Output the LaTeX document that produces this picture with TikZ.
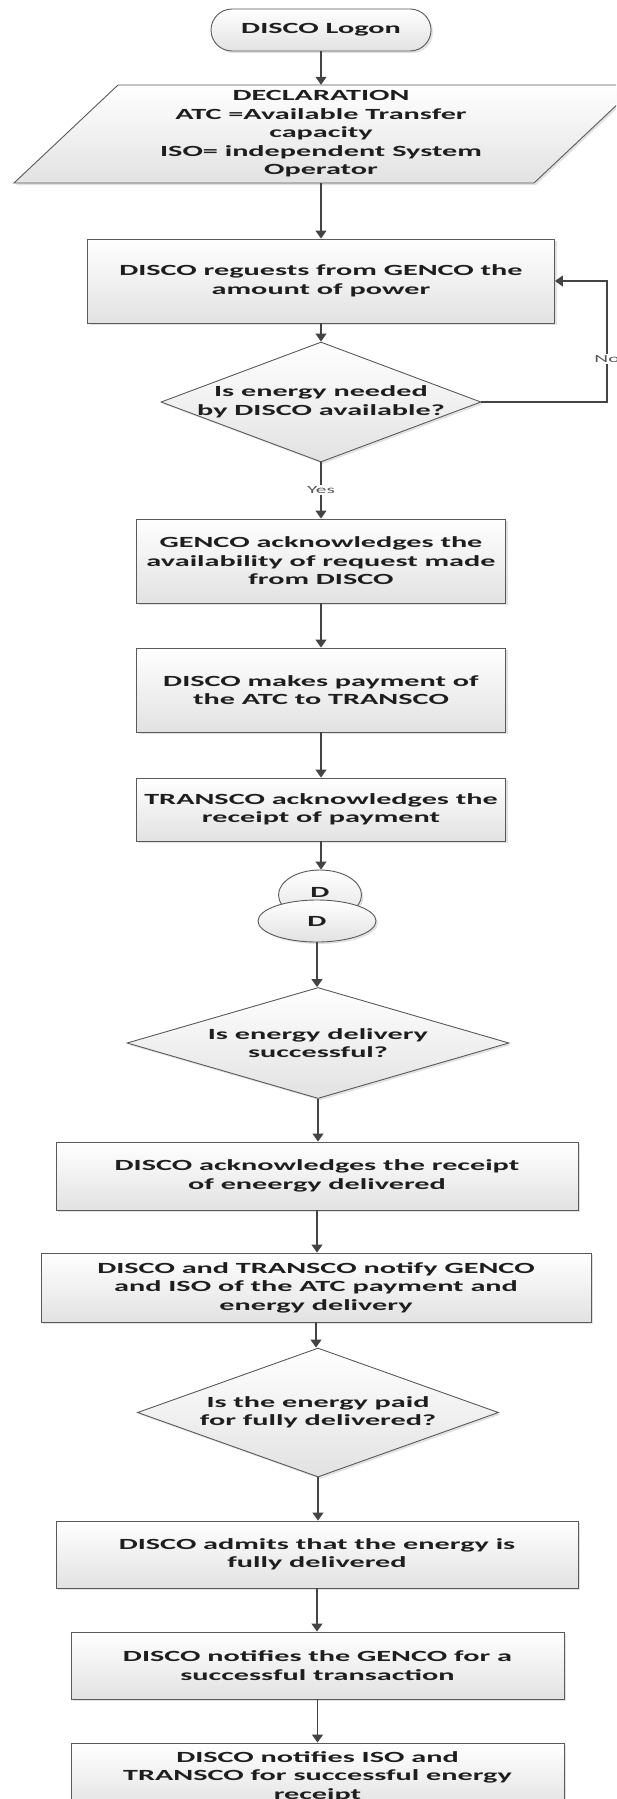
\documentclass[tikz,border=0pt]{standalone}
\usepackage{fontspec}
\setmainfont{Carlito}[FakeStretch=1.95]
\usetikzlibrary{arrows.meta,shapes.geometric,shadows}
\definecolor{edgec}{HTML}{5A5A5A}
\definecolor{arrowc}{HTML}{444444}
\definecolor{txtc}{HTML}{1E1E1E}
\definecolor{boxbot}{HTML}{E2E2E2}
\tikzset{
  base/.style={draw=edgec, line width=0.9pt, top color=white, bottom color=boxbot,
    drop shadow={shadow xshift=2pt, shadow yshift=-2pt, opacity=0.25, fill=black!45},
    font=\fontsize{15.5}{18.5}\selectfont\bfseries, text=txtc, align=center, inner sep=0pt},
  box/.style={base, rectangle},
  dia/.style={base, diamond},
  term/.style={base, rectangle, rounded corners=21pt},
  ell/.style={base, ellipse},
  txtn/.style={font=\fontsize{15.5}{18.5}\selectfont\bfseries, text=txtc, align=center, inner sep=0pt},
  arr/.style={-{Triangle[width=11pt,length=8pt]}, draw=arrowc, line width=1.2pt},
  lbl/.style={font=\fontsize{11}{13}\selectfont, text=black!65, fill=white, inner sep=1pt}
}
\begin{document}
\begin{tikzpicture}[x=1pt,y=-1pt]
\useasboundingbox (0,0) rectangle (616,1799);
\clip (0,0) rectangle (616,1799);

% start
\node[term, minimum width=220pt, minimum height=42pt] (logon) at (321,30) {DISCO Logon};

% declaration parallelogram
\path[base] (14,183) -- (534,183) -- (638,85) -- (118,85) -- cycle;
\node[txtn, minimum height=98pt] (decl) at (321,134) {DECLARATION\\ATC =Available Transfer\\capacity\\ISO= independent System\\Operator};

\node[box, minimum width=467pt, minimum height=84pt] (r1) at (321,281) {DISCO reguests from GENCO the\\amount of power};
\node[dia, minimum width=320pt, minimum height=120pt] (q1) at (321,402) {};
\node[txtn] (q1t) at (321,402) {Is energy needed\\by DISCO available?};

\node[box, minimum width=369pt, minimum height=84pt] (r2) at (321,561) {GENCO acknowledges the\\availability of request made\\from DISCO};
\node[box, minimum width=369pt, minimum height=84pt] (r3) at (321,690) {DISCO makes payment of\\the ATC to TRANSCO};
\node[box, minimum width=369pt, minimum height=63pt] (r4) at (321,809.5) {TRANSCO acknowledges the\\receipt of payment};

\node[ell, minimum width=83pt, minimum height=50pt] (e1) at (320,895) {\raisebox{5pt}{D}};
\node[ell, minimum width=118pt, minimum height=42pt] (e2) at (317,921) {D};

\node[dia, minimum width=382pt, minimum height=111pt] (q2) at (318,1043) {};
\node[txtn] (q2t) at (318,1043) {Is energy delivery\\successful?};

\node[box, minimum width=522pt, minimum height=68pt] (r5) at (317,1176) {DISCO acknowledges the receipt\\of eneergy delivered};
\node[box, minimum width=550pt, minimum height=69pt] (r6) at (316,1287.5) {DISCO and TRANSCO notify GENCO\\and ISO of the ATC payment and\\energy delivery};

\node[dia, minimum width=361pt, minimum height=129pt] (q3) at (318,1412.5) {};
\node[txtn] (q3t) at (318,1412.5) {Is the energy paid\\for fully delivered?};

\node[box, minimum width=522pt, minimum height=67pt] (r7) at (317,1554.5) {DISCO admits that the energy is\\fully delivered};
\node[box, minimum width=493pt, minimum height=67pt] (r8) at (317.5,1665.5) {DISCO notifies the GENCO for a\\successful transaction};
\node[box, minimum width=493pt, minimum height=67pt] (r9) at (317.5,1776.5) {DISCO notifies ISO and\\TRANSCO for successful energy\\receipt};

% connectors
\draw[arr] (logon.south) -- (logon.south |- decl.north);
\draw[arr] (decl.south) -- (decl.south |- r1.north);
\draw[arr] (r1.south) -- (r1.south |- q1.north);
\draw[arr] (q1.south) -- (q1.south |- r2.north);
\node[lbl] (yes) at (321,490) {Yes};
\coordinate (nocorner) at (607,402);
\draw[arr] (q1.east) -- (nocorner) |- (r1.east);
\node[lbl] (no) at (607,359) {No};
\draw[arr] (r2.south) -- (r2.south |- r3.north);
\draw[arr] (r3.south) -- (r3.south |- r4.north);
\draw[arr] (r4.south) -- (r4.south |- e1.north);
\draw[arr] (e2.south) -- (e2.south |- q2.north);
\draw[arr] (q2.south) -- (q2.south |- r5.north);
\draw[arr] (r5.south) -- (r5.south |- r6.north);
\draw[arr] (r6.south) -- (r6.south |- q3.north);
\draw[arr] (q3.south) -- (q3.south |- r7.north);
\draw[arr] (r7.south) -- (r7.south |- r8.north);
\draw[arr] (r8.south) -- (r8.south |- r9.north);
\end{tikzpicture}
\end{document}
